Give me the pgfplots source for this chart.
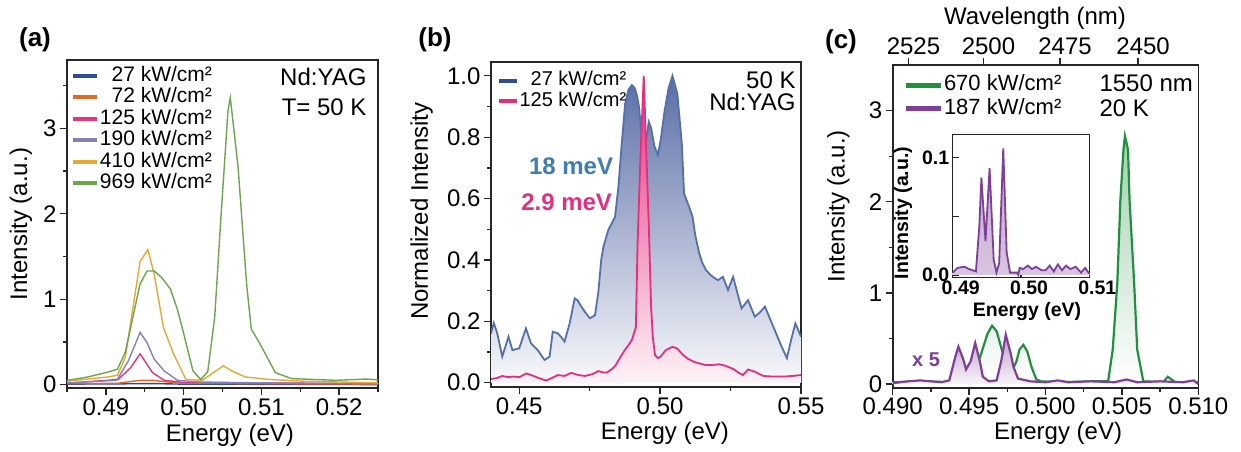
\documentclass[border=0pt]{standalone}
\usepackage{fontspec}
\setmainfont{Liberation Sans}
\usepackage{pgfplots}
\pgfplotsset{compat=1.18}

\definecolor{cA27}{HTML}{2B4C9B}
\definecolor{cA72}{HTML}{DD6A2A}
\definecolor{cA125}{HTML}{E2357F}
\definecolor{cA190}{HTML}{8480BB}
\definecolor{cA410}{HTML}{E6A733}
\definecolor{cA969}{HTML}{6CA64B}
\definecolor{bBlue}{HTML}{5570A9}
\definecolor{bBlueLeg}{HTML}{2E4D92}
\definecolor{bBlueFill}{HTML}{5A6DA6}
\definecolor{bPink}{HTML}{E52E7E}
\definecolor{bTxtBlue}{HTML}{3E7DB7}
\definecolor{cGreen}{HTML}{21903E}
\definecolor{cPurple}{HTML}{7D3F97}
\definecolor{axcol}{HTML}{262626}

\pgfplotsset{
  myax/.style={
    scale only axis,
    font=\fontsize{24}{28}\selectfont,
    axis line style={line width=1.6pt, axcol},
    tick style={line width=1.3pt, axcol},
    tick align=outside,
    major tick length=7pt,
    minor tick length=4pt,
    /pgf/number format/assume math mode=true,
    scaled ticks=false,
    legend cell align=left,
  }
}

\begin{document}
\begin{tikzpicture}
\useasboundingbox (0pt,0pt) rectangle (1241pt,451pt);

% ================= (a) =================
\begin{axis}[myax, at={(67pt,63pt)}, anchor=south west, width=311pt, height=328pt,
  xmin=0.485, xmax=0.525, ymin=-0.04, ymax=3.8,
  xtick pos=bottom, ytick pos=left,
  xtick={0.49,0.50,0.51,0.52}, minor xtick={0.485,0.495,0.505,0.515,0.525},
  ytick={0,1,2,3}, minor ytick={0.5,1.5,2.5,3.5},
  xticklabel style={/pgf/number format/.cd, fixed, fixed zerofill, precision=2},
  xlabel={Energy (eV)}, ylabel={Intensity (a.u.)},
  xlabel style={at={(axis description cs:0.524,-0.143)}, anchor=center},
  ylabel style={at={(axis description cs:-0.148,0.5)}, anchor=center},
  legend style={at={(axis description cs:0.012,0.985)}, anchor=north west, draw=none, fill=none,
    font=\fontsize{21}{24}\selectfont, inner sep=0pt, row sep=0pt,
    nodes={inner sep=1pt, text height=15pt, text depth=4.5pt}},
  legend image code/.code={\draw[#1, line width=4pt] (0pt,0pt) -- (24pt,0pt);},
]
\addplot[cA27, line width=1.4pt] coordinates {(0.485,0.005) (0.494,0.01) (0.496,0.012) (0.500,0.005) (0.525,0.0)};
\addlegendentry{\phantom{1}27 kW/cm²}
\addplot[cA72, line width=1.4pt] coordinates {(0.485,0.01) (0.4915,0.015) (0.4935,0.04) (0.4945,0.05) (0.4960,0.05) (0.4975,0.035) (0.4995,0.015) (0.525,0.005)};
\addlegendentry{\phantom{1}72 kW/cm²}
\addplot[cA125, line width=1.4pt] coordinates {(0.485,0.015) (0.4916,0.06) (0.4932,0.20) (0.4944,0.36) (0.4960,0.14) (0.4975,0.05) (0.500,0.025) (0.510,0.02) (0.525,0.01)};
\addlegendentry{125 kW/cm²}
\addplot[cA190, line width=1.4pt] coordinates {(0.485,0.02) (0.4914,0.05) (0.4929,0.28) (0.4944,0.61) (0.4953,0.49) (0.4962,0.30) (0.4975,0.16) (0.4992,0.05) (0.502,0.03) (0.510,0.02) (0.525,0.01)};
\addlegendentry{190 kW/cm²}
\addplot[cA410, line width=1.4pt] coordinates {(0.485,0.04) (0.4903,0.09) (0.4915,0.11) (0.4925,0.32) (0.4944,1.44) (0.4954,1.58) (0.4962,1.30) (0.4974,0.67) (0.4987,0.36) (0.5003,0.06) (0.5024,0.05) (0.5051,0.22) (0.5062,0.16) (0.5079,0.09) (0.511,0.06) (0.5153,0.04) (0.525,0.02)};
\addlegendentry{410 kW/cm²}
\addplot[cA969, line width=1.4pt] coordinates {(0.485,0.05) (0.4875,0.086) (0.490,0.14) (0.4915,0.18) (0.4925,0.38) (0.4935,0.80) (0.4944,1.18) (0.4953,1.33) (0.4962,1.33) (0.4971,1.26) (0.4983,1.12) (0.4992,0.88) (0.5000,0.60) (0.5012,0.16) (0.5022,0.06) (0.5031,0.15) (0.5040,0.79) (0.5048,1.96) (0.5057,3.20) (0.5060,3.36) (0.5070,2.55) (0.5081,1.18) (0.5087,0.65) (0.5098,0.48) (0.5118,0.14) (0.5139,0.07) (0.5196,0.05) (0.5235,0.065) (0.525,0.055)};
\addlegendentry{969 kW/cm²}
\node[anchor=west, inner sep=0pt] at (axis description cs:0.685,0.948) {Nd:YAG};
\node[anchor=west, inner sep=0pt] at (axis description cs:0.690,0.857) {T= 50 K};
\end{axis}

% ================= (b) =================
\begin{axis}[myax, at={(491pt,64pt)}, anchor=south west, width=310pt, height=325pt,
  xmin=0.44, xmax=0.55, ymin=-0.014, ymax=1.045,
  xtick pos=bottom, ytick pos=left,
  xtick={0.45,0.50,0.55}, minor xtick={0.475,0.525},
  ytick={0,0.2,0.4,0.6,0.8,1.0}, minor ytick={0.1,0.3,0.5,0.7,0.9},
  xticklabel style={/pgf/number format/.cd, fixed, fixed zerofill, precision=2},
  yticklabel style={/pgf/number format/.cd, fixed, fixed zerofill, precision=1},
  xlabel={Energy (eV)}, ylabel={Normalized Intensity},
  xlabel style={at={(axis description cs:0.561,-0.1415)}, anchor=center},
  ylabel style={at={(axis description cs:-0.2235,0.5415)}, anchor=center},
  legend style={at={(axis description cs:0.019,0.975)}, anchor=north west, draw=none, fill=none,
    font=\fontsize{20}{23}\selectfont, inner sep=0pt, row sep=0pt,
    nodes={inner sep=0.5pt, text height=15pt, text depth=4.5pt}},
  legend image code/.code={\draw[#1, line width=4pt] (0pt,0pt) -- (18pt,0pt);},
]
\addlegendimage{bBlueLeg}
\addlegendentry{\phantom{1}27 kW/cm²}
\addlegendimage{bPink}
\addlegendentry{125 kW/cm²}
\addplot[forget plot, draw=none, top color=bBlueFill, bottom color=bBlueFill!4] coordinates {
(0.4400,0.160) (0.4410,0.195) (0.4422,0.161) (0.4440,0.085) (0.4462,0.150) (0.4476,0.106) (0.4500,0.112) (0.4524,0.177) (0.4542,0.128) (0.4566,0.106) (0.4590,0.074) (0.4608,0.085) (0.4619,0.166) (0.4637,0.161) (0.4648,0.150) (0.4661,0.134) (0.4679,0.193) (0.4697,0.275) (0.4708,0.268) (0.4719,0.250) (0.4733,0.231) (0.4751,0.210) (0.4769,0.220) (0.4781,0.296) (0.4791,0.400) (0.4799,0.443) (0.4816,0.497) (0.4840,0.540) (0.4852,0.638) (0.4864,0.780) (0.4876,0.910) (0.4888,0.955) (0.4900,0.970) (0.4910,0.960) (0.4918,0.935) (0.4925,0.900) (0.4935,0.80) (0.4948,0.78) (0.4960,0.850) (0.4968,0.830) (0.4980,0.770) (0.4992,0.742) (0.5002,0.790) (0.5015,0.880) (0.5030,0.960) (0.5044,1.000) (0.5061,0.943) (0.5077,0.780) (0.5085,0.617) (0.5103,0.573) (0.5115,0.541) (0.5125,0.480) (0.5139,0.421) (0.5150,0.390) (0.5163,0.367) (0.5180,0.350) (0.5195,0.340) (0.5205,0.334) (0.5223,0.345) (0.5241,0.302) (0.5259,0.345) (0.5289,0.242) (0.5312,0.269) (0.5336,0.215) (0.5355,0.230) (0.5372,0.248) (0.5402,0.182) (0.5430,0.120) (0.5450,0.080) (0.5465,0.140) (0.5480,0.193) (0.5500,0.150)} \closedcycle;
\addplot[forget plot, bBlue, line width=1.8pt] coordinates {
(0.4400,0.160) (0.4410,0.195) (0.4422,0.161) (0.4440,0.085) (0.4462,0.150) (0.4476,0.106) (0.4500,0.112) (0.4524,0.177) (0.4542,0.128) (0.4566,0.106) (0.4590,0.074) (0.4608,0.085) (0.4619,0.166) (0.4637,0.161) (0.4648,0.150) (0.4661,0.134) (0.4679,0.193) (0.4697,0.275) (0.4708,0.268) (0.4719,0.250) (0.4733,0.231) (0.4751,0.210) (0.4769,0.220) (0.4781,0.296) (0.4791,0.400) (0.4799,0.443) (0.4816,0.497) (0.4840,0.540) (0.4852,0.638) (0.4864,0.780) (0.4876,0.910) (0.4888,0.955) (0.4900,0.970) (0.4910,0.960) (0.4918,0.935) (0.4925,0.900) (0.4935,0.80) (0.4948,0.78) (0.4960,0.850) (0.4968,0.830) (0.4980,0.770) (0.4992,0.742) (0.5002,0.790) (0.5015,0.880) (0.5030,0.960) (0.5044,1.000) (0.5061,0.943) (0.5077,0.780) (0.5085,0.617) (0.5103,0.573) (0.5115,0.541) (0.5125,0.480) (0.5139,0.421) (0.5150,0.390) (0.5163,0.367) (0.5180,0.350) (0.5195,0.340) (0.5205,0.334) (0.5223,0.345) (0.5241,0.302) (0.5259,0.345) (0.5289,0.242) (0.5312,0.269) (0.5336,0.215) (0.5355,0.230) (0.5372,0.248) (0.5402,0.182) (0.5430,0.120) (0.5450,0.080) (0.5465,0.140) (0.5480,0.193) (0.5500,0.150)};
\addplot[forget plot, draw=none, top color=bPink, middle color=bPink!75, bottom color=bPink!6] coordinates {
(0.4400,0.012) (0.4420,0.015) (0.4440,0.022) (0.4460,0.018) (0.4480,0.020) (0.4500,0.018) (0.4525,0.030) (0.4542,0.025) (0.4570,0.015) (0.4596,0.007) (0.4615,0.015) (0.4637,0.025) (0.4660,0.022) (0.4685,0.032) (0.4710,0.025) (0.4733,0.022) (0.4760,0.028) (0.4781,0.038) (0.4800,0.033) (0.4811,0.033) (0.4830,0.045) (0.4841,0.055) (0.4860,0.085) (0.4876,0.108) (0.4890,0.125) (0.4900,0.140) (0.4914,0.180) (0.4920,0.450) (0.4930,0.730) (0.4942,1.000) (0.4950,0.780) (0.4960,0.510) (0.4968,0.250) (0.4974,0.150) (0.4982,0.090) (0.4992,0.080) (0.5002,0.085) (0.5020,0.106) (0.5044,0.117) (0.5060,0.112) (0.5080,0.092) (0.5097,0.079) (0.5120,0.068) (0.5139,0.063) (0.5160,0.058) (0.5187,0.058) (0.5210,0.060) (0.5229,0.056) (0.5259,0.045) (0.5280,0.032) (0.5294,0.025) (0.5312,0.043) (0.5336,0.036) (0.5366,0.022) (0.5400,0.020) (0.5438,0.020) (0.5470,0.022) (0.5500,0.025)} \closedcycle;
\addplot[forget plot, bPink, line width=1.8pt] coordinates {
(0.4400,0.012) (0.4420,0.015) (0.4440,0.022) (0.4460,0.018) (0.4480,0.020) (0.4500,0.018) (0.4525,0.030) (0.4542,0.025) (0.4570,0.015) (0.4596,0.007) (0.4615,0.015) (0.4637,0.025) (0.4660,0.022) (0.4685,0.032) (0.4710,0.025) (0.4733,0.022) (0.4760,0.028) (0.4781,0.038) (0.4800,0.033) (0.4811,0.033) (0.4830,0.045) (0.4841,0.055) (0.4860,0.085) (0.4876,0.108) (0.4890,0.125) (0.4900,0.140) (0.4914,0.180) (0.4920,0.450) (0.4930,0.730) (0.4942,1.000) (0.4950,0.780) (0.4960,0.510) (0.4968,0.250) (0.4974,0.150) (0.4982,0.090) (0.4992,0.080) (0.5002,0.085) (0.5020,0.106) (0.5044,0.117) (0.5060,0.112) (0.5080,0.092) (0.5097,0.079) (0.5120,0.068) (0.5139,0.063) (0.5160,0.058) (0.5187,0.058) (0.5210,0.060) (0.5229,0.056) (0.5259,0.045) (0.5280,0.032) (0.5294,0.025) (0.5312,0.043) (0.5336,0.036) (0.5366,0.022) (0.5400,0.020) (0.5438,0.020) (0.5470,0.022) (0.5500,0.025)};
\node[anchor=east, inner sep=0pt] at (axis description cs:0.983,0.945) {50 K};
\node[anchor=east, inner sep=0pt] at (axis description cs:0.983,0.878) {Nd:YAG};
\node[anchor=east, inner sep=0pt, font=\fontsize{24}{28}\selectfont\bfseries, text=bTxtBlue] at (axis description cs:0.3945,0.678) {18 meV};
\node[anchor=east, inner sep=0pt, font=\fontsize{24}{28}\selectfont\bfseries, text=bPink] at (axis description cs:0.391,0.570) {2.9 meV};
\end{axis}

% ================= (c) top wavelength axis =================
\begin{axis}[myax, at={(892.7pt,63.3pt)}, anchor=south west, width=305.6pt, height=322.7pt,
  xmin=0.49, xmax=0.51, ymin=0, ymax=1,
  axis x line*=top, axis y line=none,
  xtick={0.49103,0.49594,0.50095,0.50606}, xticklabels={2525,2500,2475,2450},
  xticklabel style={xshift=5pt},
  xlabel={Wavelength (nm)},
  xlabel style={at={(axis description cs:0.4657,1.1457)}, anchor=center},
]
\addplot[draw=none, forget plot] coordinates {(0.49,0) (0.51,1)};
\end{axis}

% ================= (c) main =================
\begin{axis}[myax, at={(892.7pt,63.3pt)}, anchor=south west, width=305.6pt, height=322.7pt,
  xmin=0.49, xmax=0.51, ymin=-0.04, ymax=3.5,
  xtick pos=bottom, ytick pos=left,
  xtick={0.490,0.495,0.500,0.505,0.510}, minor xtick={0.4925,0.4975,0.5025,0.5075},
  ytick={0,1,2,3}, minor ytick={0.5,1.5,2.5},
  xticklabel style={/pgf/number format/.cd, fixed, fixed zerofill, precision=3},
  xlabel={Energy (eV)}, ylabel={Intensity (a.u.)},
  xlabel style={at={(axis description cs:0.541,-0.140)}, anchor=center},
  ylabel style={at={(axis description cs:-0.178,0.563)}, anchor=center},
  legend style={at={(axis description cs:0.033,0.975)}, anchor=north west, draw=none, fill=none,
    font=\fontsize{22}{25}\selectfont, inner sep=0pt, row sep=0pt,
    nodes={inner sep=1pt, text height=16.5pt, text depth=5pt}},
  legend image code/.code={\draw[#1, line width=5pt] (0pt,0pt) -- (35pt,0pt);},
]
\addlegendimage{cGreen}
\addlegendentry{670 kW/cm²}
\addlegendimage{cPurple}
\addlegendentry{187 kW/cm²}
\addplot[forget plot, draw=none, top color=cGreen!42, bottom color=white] coordinates {
(0.4900,0.02) (0.4920,0.03) (0.4940,0.02) (0.4952,0.03) (0.4958,0.34) (0.4962,0.55) (0.4965,0.64) (0.4968,0.58) (0.4971,0.40) (0.4975,0.18) (0.4978,0.14) (0.4981,0.25) (0.4983,0.38) (0.49855,0.43) (0.4988,0.36) (0.4991,0.18) (0.4994,0.05) (0.4997,0.03) (0.5010,0.02) (0.5030,0.03) (0.5041,0.03) (0.5044,0.38) (0.5047,1.11) (0.5049,2.02) (0.5051,2.57) (0.5052,2.72) (0.5054,2.57) (0.5055,2.02) (0.5058,1.11) (0.5060,0.38) (0.5064,0.03) (0.5077,0.02) (0.5080,0.08) (0.5085,0.02) (0.5100,0.02)} \closedcycle;
\addplot[forget plot, cGreen, line width=2.2pt] coordinates {
(0.4900,0.02) (0.4920,0.03) (0.4940,0.02) (0.4952,0.03) (0.4958,0.34) (0.4962,0.55) (0.4965,0.64) (0.4968,0.58) (0.4971,0.40) (0.4975,0.18) (0.4978,0.14) (0.4981,0.25) (0.4983,0.38) (0.49855,0.43) (0.4988,0.36) (0.4991,0.18) (0.4994,0.05) (0.4997,0.03) (0.5010,0.02) (0.5030,0.03) (0.5041,0.03) (0.5044,0.38) (0.5047,1.11) (0.5049,2.02) (0.5051,2.57) (0.5052,2.72) (0.5054,2.57) (0.5055,2.02) (0.5058,1.11) (0.5060,0.38) (0.5064,0.03) (0.5077,0.02) (0.5080,0.08) (0.5085,0.02) (0.5100,0.02)};
\addplot[forget plot, draw=none, top color=cPurple!50, bottom color=cPurple!6] coordinates {
(0.4900,0.01) (0.4910,0.03) (0.4918,0.04) (0.4925,0.03) (0.4932,0.02) (0.4937,0.04) (0.4941,0.30) (0.4943,0.41) (0.4946,0.28) (0.4948,0.16) (0.4951,0.25) (0.4954,0.45) (0.4957,0.25) (0.4959,0.08) (0.4963,0.03) (0.4968,0.04) (0.4971,0.25) (0.4974,0.54) (0.4977,0.35) (0.4979,0.19) (0.4982,0.06) (0.4990,0.03) (0.5000,0.02) (0.5008,0.04) (0.5015,0.02) (0.5030,0.03) (0.5045,0.02) (0.5053,0.05) (0.5060,0.02) (0.5075,0.03) (0.5090,0.02) (0.5097,0.04) (0.5100,0.0)} \closedcycle;
\addplot[forget plot, cPurple, line width=2.2pt] coordinates {
(0.4900,0.01) (0.4910,0.03) (0.4918,0.04) (0.4925,0.03) (0.4932,0.02) (0.4937,0.04) (0.4941,0.30) (0.4943,0.41) (0.4946,0.28) (0.4948,0.16) (0.4951,0.25) (0.4954,0.45) (0.4957,0.25) (0.4959,0.08) (0.4963,0.03) (0.4968,0.04) (0.4971,0.25) (0.4974,0.54) (0.4977,0.35) (0.4979,0.19) (0.4982,0.06) (0.4990,0.03) (0.5000,0.02) (0.5008,0.04) (0.5015,0.02) (0.5030,0.03) (0.5045,0.02) (0.5053,0.05) (0.5060,0.02) (0.5075,0.03) (0.5090,0.02) (0.5097,0.04) (0.5100,0.0)};
\node[anchor=west, inner sep=0pt] at (axis description cs:0.676,0.943) {1550 nm};
\node[anchor=west, inner sep=0pt] at (axis description cs:0.676,0.866) {20 K};
\node[inner sep=0pt, font=\fontsize{20}{24}\selectfont\bfseries, text=cPurple] at (axis description cs:0.109,0.0858) {x 5};
\end{axis}

% ================= (c) inset =================
\begin{axis}[myax, at={(952.7pt,173.7pt)}, anchor=south west, width=136.6pt, height=143pt,
  font=\fontsize{19.5}{23}\selectfont\bfseries,
  axis background/.style={fill=white},
  axis line style={line width=1.3pt, axcol},
  tick align=inside, major tick length=6pt, minor tick length=6pt,
  xtick pos=bottom, ytick pos=left,
  xmin=0.49, xmax=0.51, ymin=-0.002, ymax=0.12,
  xtick={0.49,0.50,0.51}, ytick={0,0.1}, minor ytick={0.05},
  xticklabel style={xshift=8pt, /pgf/number format/.cd, fixed, fixed zerofill, precision=2},
  yticklabel style={/pgf/number format/.cd, fixed, fixed zerofill, precision=1},
  xlabel={Energy (eV)}, ylabel={Intensity (a.u.)},
  xlabel style={at={(axis description cs:0.544,-0.2406)}, anchor=center},
  ylabel style={at={(axis description cs:-0.364,0.45)}, anchor=center},
]
\addplot[forget plot, draw=none, top color=cPurple!48, bottom color=cPurple!30] coordinates {
(0.4900,0.002) (0.4907,0.006) (0.4917,0.007) (0.4924,0.005) (0.4934,0.003) (0.4939,0.042) (0.4942,0.083) (0.4948,0.029) (0.4954,0.091) (0.4960,0.013) (0.4964,0.002) (0.4968,0.010) (0.4974,0.108) (0.4979,0.019) (0.4984,0.002) (0.4994,0.002) (0.4996,0.000) (0.4998,0.006) (0.5003,0.005) (0.5010,0.008) (0.5016,0.005) (0.5022,0.007) (0.5030,0.004) (0.5036,0.004) (0.5042,0.008) (0.5048,0.003) (0.5054,0.009) (0.5060,0.004) (0.5066,0.008) (0.5072,0.005) (0.5080,0.007) (0.5088,0.002) (0.5094,0.006) (0.5100,0.001)} \closedcycle;
\addplot[forget plot, cPurple, line width=1.8pt] coordinates {
(0.4900,0.002) (0.4907,0.006) (0.4917,0.007) (0.4924,0.005) (0.4934,0.003) (0.4939,0.042) (0.4942,0.083) (0.4948,0.029) (0.4954,0.091) (0.4960,0.013) (0.4964,0.002) (0.4968,0.010) (0.4974,0.108) (0.4979,0.019) (0.4984,0.002) (0.4994,0.002) (0.4996,0.000) (0.4998,0.006) (0.5003,0.005) (0.5010,0.008) (0.5016,0.005) (0.5022,0.007) (0.5030,0.004) (0.5036,0.004) (0.5042,0.008) (0.5048,0.003) (0.5054,0.009) (0.5060,0.004) (0.5066,0.008) (0.5072,0.005) (0.5080,0.007) (0.5088,0.002) (0.5094,0.006) (0.5100,0.001)};
\end{axis}

\node[font=\fontsize{26}{30}\selectfont\bfseries] at (35pt,411pt) {(a)};
\node[font=\fontsize{26}{30}\selectfont\bfseries] at (435pt,411pt) {(b)};
\node[font=\fontsize{26}{30}\selectfont\bfseries] at (841pt,409pt) {(c)};
\end{tikzpicture}
\end{document}
